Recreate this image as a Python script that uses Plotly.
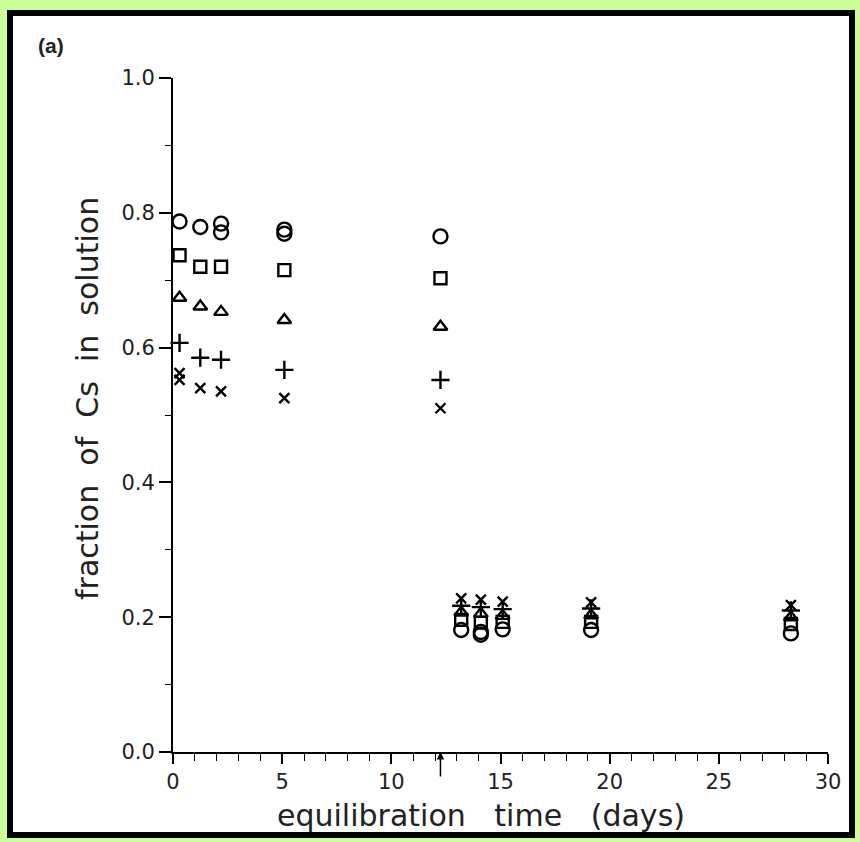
import plotly.graph_objects as go

# ---- data ----
days = [0.3, 1.25, 2.2, 5.1, 12.25, 13.2, 14.1, 15.1, 19.15, 28.3]
circle_y = [0.787, 0.779, 0.784, 0.775, 0.765, 0.181, 0.178, 0.182, 0.181, 0.176]
square_y = [0.737, 0.720, 0.720, 0.715, 0.703, 0.196, 0.192, 0.193, 0.193, 0.190]
triangle_y = [0.674, 0.661, 0.653, 0.641, 0.631, 0.207, 0.205, 0.202, 0.203, 0.200]
plus_y = [0.607, 0.585, 0.582, 0.567, 0.552, 0.217, 0.215, 0.212, 0.213, 0.210]
x_y = [0.562, 0.540, 0.535, 0.525, 0.510, 0.228, 0.226, 0.223, 0.222, 0.218]
circle_rep_days = [2.2, 5.1, 14.1]
circle_rep_y = [0.771, 0.769, 0.174]
x_rep_days = [0.3]
x_rep_y = [0.552]

x_ticks = [0, 5, 10, 15, 20, 25, 30]
y_ticks = [0.0, 0.2, 0.4, 0.6, 0.8, 1.0]
y_ticklabels = ["0.0", "0.2", "0.4", "0.6", "0.8", "1.0"]
arrow_day = 12.25
x_title = "equilibration   time   (days)"
y_title = "fraction  of  Cs  in  solution"
panel_label = "(a)"

W, H = 860, 842
L, R, T, B = 173, 32, 78, 90

fig = go.Figure()
ml = dict(color="black", width=2.4)
series = [
    (days, circle_y, "circle-open", 14),
    (circle_rep_days, circle_rep_y, "circle-open", 14),
    (days, square_y, "square-open", 12),
    (days, triangle_y, "triangle-up-open", 12),
    (days, plus_y, "cross-thin-open", 13),
    (days, x_y, "x-thin-open", 10),
    (x_rep_days, x_rep_y, "x-thin-open", 10),
]
for xs, ys, sym, sz in series:
    fig.add_trace(go.Scatter(x=xs, y=ys, mode="markers", cliponaxis=False,
                             marker=dict(symbol=sym, size=sz, color="black", line=ml),
                             showlegend=False))

pw = W - L - R
ph = H - T - B
def px(xp):
    return (xp - L) / pw
def py(yp):
    return (H - B - yp) / ph

shapes = [
    dict(type="rect", xref="paper", yref="paper", x0=px(10), x1=px(852), y0=py(13), y1=py(835),
         line=dict(color="black", width=6), fillcolor="white", layer="below"),
]

tf = dict(size=21, family="DejaVu Sans, sans-serif", color="#222")
fig.update_layout(
    width=W, height=H,
    margin=dict(l=L, r=R, t=T, b=B),
    paper_bgcolor="#ccff99",
    plot_bgcolor="white",
    shapes=shapes,
    font=dict(family="DejaVu Sans, sans-serif", color="#222"),
    xaxis=dict(range=[0, 30], tickvals=x_ticks, ticks="outside", ticklen=10, tickwidth=1.5,
               tickcolor="black", showline=True, linecolor="black", linewidth=2,
               showgrid=False, zeroline=False, tickfont=tf,
               minor=dict(dtick=1, ticks="outside", ticklen=7, tickcolor="black", tickwidth=1.2, showgrid=False)),
    yaxis=dict(range=[0, 1], tickvals=y_ticks, ticktext=y_ticklabels, ticks="outside", ticklen=12,
               tickwidth=1.5, tickcolor="black", showline=True, linecolor="black", linewidth=2,
               showgrid=False, zeroline=False, tickfont=tf,
               minor=dict(dtick=0.1, ticks="outside", ticklen=6, tickcolor="black", tickwidth=1.2, showgrid=False)),
    annotations=[
        dict(x=arrow_day, y=0, xref="x", yref="y", showarrow=True, ax=0, ay=26,
             arrowhead=2, arrowsize=1, arrowwidth=1.5, arrowcolor="black", text=""),
        dict(x=px(36), y=py(45), xref="paper", yref="paper", xanchor="left", yanchor="middle",
             text="<b>" + panel_label + "</b>", showarrow=False,
             font=dict(size=21, color="#222", family="Liberation Sans, Arial, sans-serif")),
        dict(x=px(481), y=py(815), xref="paper", yref="paper", xanchor="center", yanchor="middle",
             text=x_title, showarrow=False,
             font=dict(size=30, family="DejaVu Sans, sans-serif", color="#222")),
        dict(x=px(88), y=py(399), xref="paper", yref="paper", xanchor="center", yanchor="middle",
             text=y_title, textangle=-90, showarrow=False,
             font=dict(size=30, family="DejaVu Sans, sans-serif", color="#222")),
    ],
)

fig.write_html("out.html", config={"displayModeBar": False},
               post_script="document.body.style.margin='0';document.body.style.padding='0';")
